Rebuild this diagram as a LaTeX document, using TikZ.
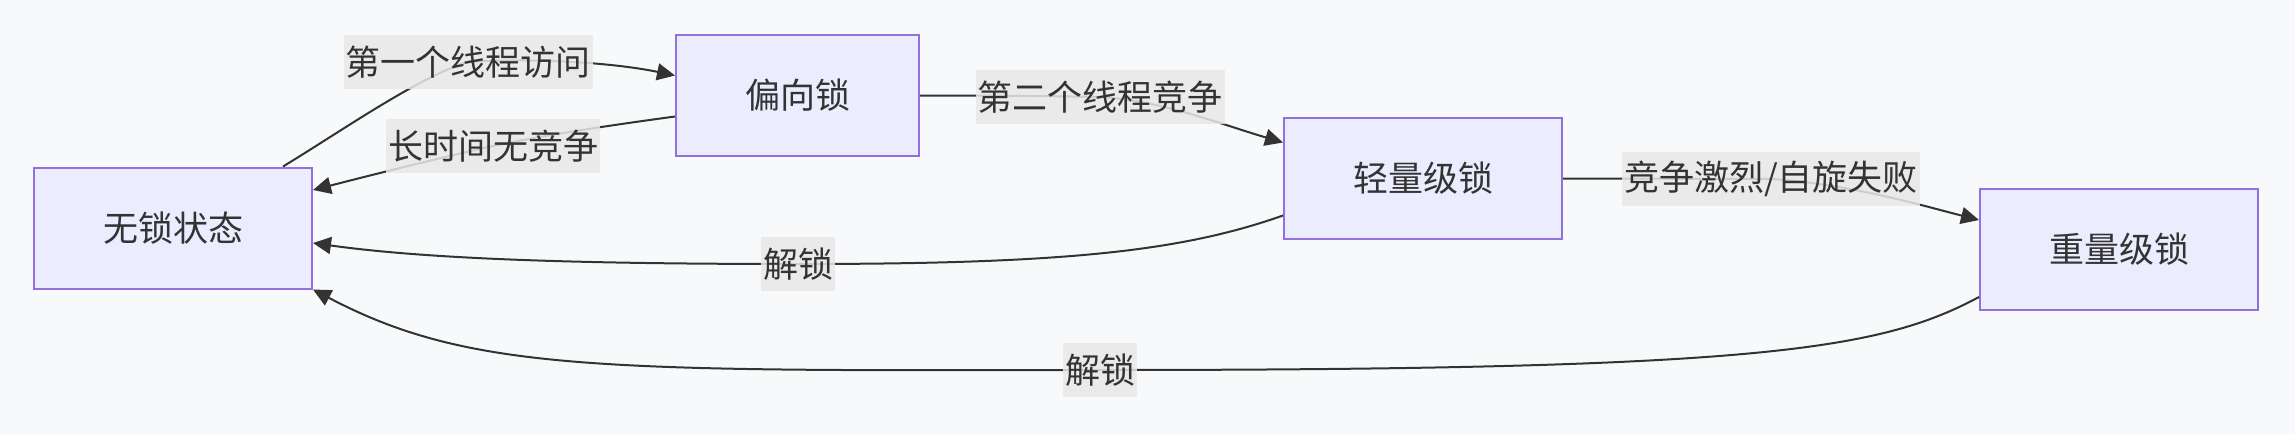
\documentclass[tikz,border=0pt]{standalone}
\usepackage{fontspec}
\setmainfont{Noto Sans CJK SC}
\usetikzlibrary{arrows.meta,positioning}
\definecolor{bgc}{RGB}{248,249,250}
\definecolor{boxfill}{RGB}{236,236,255}
\definecolor{boxline}{RGB}{147,112,219}
\definecolor{ink}{RGB}{51,51,51}
\definecolor{lblfill}{RGB}{232,232,232}
\begin{document}
\begin{tikzpicture}[x=1pt,y=-1pt,
  lockbox/.style={draw=boxline,line width=2pt,fill=boxfill,text=ink,inner xsep=69pt,minimum height=121pt,font=\fontsize{35pt}{42pt}\selectfont},
  lbl/.style={fill=lblfill,fill opacity=0.85,text opacity=1,text=ink,inner xsep=2pt,inner ysep=0pt,minimum height=54pt,font=\fontsize{35pt}{42pt}\selectfont},
  link/.style={draw=ink,line width=2pt,-{Triangle[length=18pt,width=17pt]}}]
\fill[bgc] (0,0) rectangle (2295,434);
\node[lockbox] (nolock) at (173,228) {无锁状态};
\node[lockbox] (biased) at (797.5,95.5) {偏向锁};
\node[lockbox] (light) at (1423,178.5) {轻量级锁};
\node[lockbox] (heavy) at (2119,249) {重量级锁};
\draw[link] ([xshift=-30pt]nolock.north east) .. controls (340,132) and (420,76) .. (468,62) node[lbl] {第一个线程访问} .. controls (530,58) and (610,62) .. ([yshift=20pt]biased.west);
\draw[link] ([yshift=-21pt]biased.west) .. controls (620,124) and (550,134) .. (493,146) node[lbl] {长时间无竞争} .. controls (430,160) and (360,178) .. ([yshift=38pt]nolock.east);
\draw[link] (biased.east) .. controls (1000,95.5) and (1050,96) .. (1100,97) node[lbl] {第二个线程竞争} .. controls (1160,100) and (1220,124) .. ([yshift=36pt]light.west);
\draw[link] (light.east) -- (1771,179) node[lbl] {竞争激烈/自旋失败} .. controls (1850,184) and (1920,205) .. ([yshift=29pt]heavy.west);
\draw[link] ([yshift=-37pt]light.west) .. controls (1180,252) and (1060,264) .. (798,264) node[lbl] {解锁} .. controls (560,264) and (420,258) .. ([yshift=-15pt]nolock.east);
\draw[link] ([yshift=-48pt]heavy.west) .. controls (1880,350) and (1760,370) .. (1100,370) node[lbl] {解锁} .. controls (600,371) and (470,372) .. (nolock.south east);
\end{tikzpicture}
\end{document}
